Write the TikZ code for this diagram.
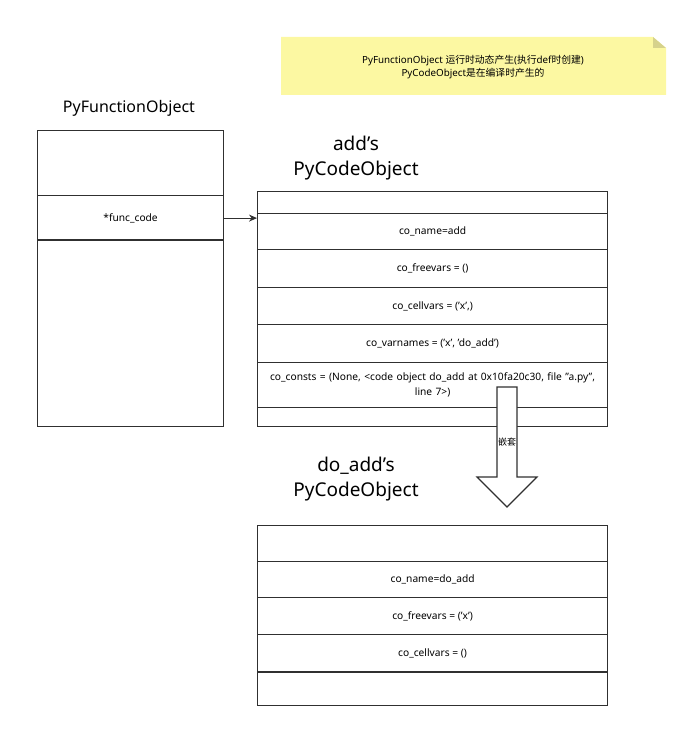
\documentclass[tikz,border=0pt]{standalone}
\usepackage{fontspec}
\setmainfont{Noto Sans}
\newfontfamily\cjk{Noto Sans CJK SC}
\usetikzlibrary{arrows.meta}
\definecolor{edge}{HTML}{303030}
\definecolor{notefill}{HTML}{FCF8A2}
\definecolor{notefold}{HTML}{D6D28C}
\tikzset{
  cell/.style={draw=edge, line width=1.2pt, anchor=north west, minimum width=#1,
    inner sep=0pt, font=\fontsize{10.2}{14.5}\selectfont},
  cell/.default=350pt,
  heading/.style={font=\fontsize{#1}{#1}\selectfont, align=center, inner sep=0pt},
  link/.style={draw=edge, line width=1.2pt, -{Stealth[length=8pt,width=7pt]}},
}
\begin{document}
\begin{tikzpicture}[x=1pt,y=-1pt]
\useasboundingbox (0,0) rectangle (690,730);

% sticky note
\path[fill=notefill] (281,37) -- (653,37) -- (666,48) -- (666,95) -- (281,95) -- cycle;
\path[fill=notefold] (653,37) -- (666,48) -- (653,48) -- cycle;
\node[align=center, font=\fontsize{9.8}{12.5}\selectfont] (note) at (473,67)
  {PyFunctionObject {\cjk 运行时动态产生}({\cjk 执行}def{\cjk 时创建})\\PyCodeObject{\cjk 是在编译时产生的}};

% PyFunctionObject
\node[heading=16] (fotitle) at (129,108) {PyFunctionObject};
\node[cell=186pt, minimum height=65pt] (fo1) at (37,130) {};
\node[cell=186pt, minimum height=45pt] (fo2) at (37,195) {*func\_code};
\node[cell=186pt, minimum height=186pt] (fo3) at (37,240) {};
\draw[edge, line width=2pt] (fo3.north west) -- (fo3.north east);

% add's PyCodeObject
\node[heading=19] (addtitle) at (356,158) {add's\\[6pt]PyCodeObject};
\node[cell, minimum height=22pt] (a0) at (257,191) {};
\node[cell, minimum height=36pt] (a1) at (257,213) {co\_name=add};
\node[cell, minimum height=38pt] (a2) at (257,249) {co\_freevars = ()};
\node[cell, minimum height=37pt] (a3) at (257,287) {co\_cellvars = ('x',)};
\node[cell, minimum height=38pt] (a4) at (257,324) {co\_varnames = ('x', 'do\_add')};
\node[cell, minimum height=45pt, text width=346pt, align=center] (a5) at (257,362)
  {co\_consts = (None, <code object do\_add at 0x10fa20c30, file "a.py",\\ line 7>)};
\node[cell, minimum height=19pt] (a6) at (257,407) {};

\draw[link] (fo2.east) -- (a1.north west |- fo2.east);

% do_add's PyCodeObject
\node[heading=19] (dotitle) at (356,479) {do\_add's\\[6pt]PyCodeObject};
\node[cell, minimum height=36pt] (d0) at (257,525) {};
\node[cell, minimum height=36pt] (d1) at (257,561) {co\_name=do\_add};
\node[cell, minimum height=37pt] (d2) at (257,597) {co\_freevars = ('x')};
\node[cell, minimum height=38pt] (d3) at (257,634) {co\_cellvars = ()};
\node[cell, minimum height=33pt] (d4) at (257,672) {};
\draw[edge, line width=2pt] (d4.north west) -- (d4.north east);

% nesting arrow
\coordinate (ntop) at (507,387);
\coordinate (ntip) at (507,507);
\draw[edge, line width=1.2pt, fill=white, line join=miter]
  (497,387) -- (517,387) -- (517,477) -- (537,477) -- (ntip)
  -- (477,477) -- (497,477) -- cycle;
\node[font=\cjk\fontsize{9}{10}\selectfont, inner sep=0pt] (nestlabel) at (507,442) {嵌套};
\end{tikzpicture}
\end{document}
